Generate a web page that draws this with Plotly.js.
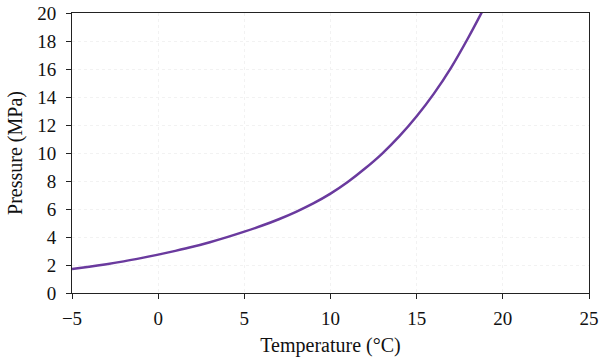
<!DOCTYPE html>
<html>
<head>
<meta charset="utf-8">
<script src="https://cdn.plot.ly/plotly-3.0.1.min.js"></script>
<style>html,body{margin:0;padding:0;background:#fff;}#chart{width:600px;height:360px;}</style>
</head>
<body>
<div id="chart"></div>
<script>
const temperature = [-5, -4, -3, -2, -1, 0, 1, 2, 3, 4, 5, 6, 7, 8, 9, 10, 11, 12, 13, 14, 15, 16, 17, 18, 18.8];
const pressure = [1.71, 1.88, 2.06, 2.26, 2.49, 2.74, 3.01, 3.30, 3.63, 3.99, 4.38, 4.80, 5.27, 5.80, 6.40, 7.10, 7.93, 8.89, 9.96, 11.20, 12.62, 14.24, 16.10, 18.25, 20.1];
const xTicks = [-5, 0, 5, 10, 15, 20, 25];
const yTicks = [0, 2, 4, 6, 8, 10, 12, 14, 16, 18, 20];

const tickFont = {family: '"Liberation Serif", "DejaVu Serif", serif', size: 19, color: '#111'};
const titleFont = {family: '"Liberation Serif", "DejaVu Serif", serif', size: 20, color: '#111'};

const trace = {
  x: temperature,
  y: pressure,
  type: 'scatter',
  mode: 'lines',
  line: {color: '#6a3a9e', width: 2.5, shape: 'spline', smoothing: 1},
  hoverinfo: 'skip'
};

const axisCommon = {
  showline: true,
  linecolor: '#222',
  linewidth: 1,
  mirror: true,
  ticks: 'outside',
  ticklen: 5,
  tickwidth: 1,
  tickcolor: '#222',
  showgrid: true,
  gridcolor: '#f2f2f2',
  griddash: 'dot',
  zeroline: false,
  tickfont: tickFont
};

const layout = {
  width: 600,
  height: 360,
  margin: {l: 72, r: 11, t: 13, b: 67},
  paper_bgcolor: '#fff',
  plot_bgcolor: '#fff',
  showlegend: false,
  font: tickFont,
  xaxis: Object.assign({}, axisCommon, {
    range: [-5, 25],
    tickvals: xTicks,
    ticklabelstandoff: 3,
    title: {text: 'Temperature (°C)', font: titleFont, standoff: 10}
  }),
  yaxis: Object.assign({}, axisCommon, {
    range: [0, 20],
    tickvals: yTicks,
    ticklabelstandoff: 6,
    title: {text: 'Pressure (MPa)', font: titleFont, standoff: 9}
  })
};

Plotly.newPlot('chart', [trace], layout, {staticPlot: true, displayModeBar: false});
</script>
</body>
</html>
